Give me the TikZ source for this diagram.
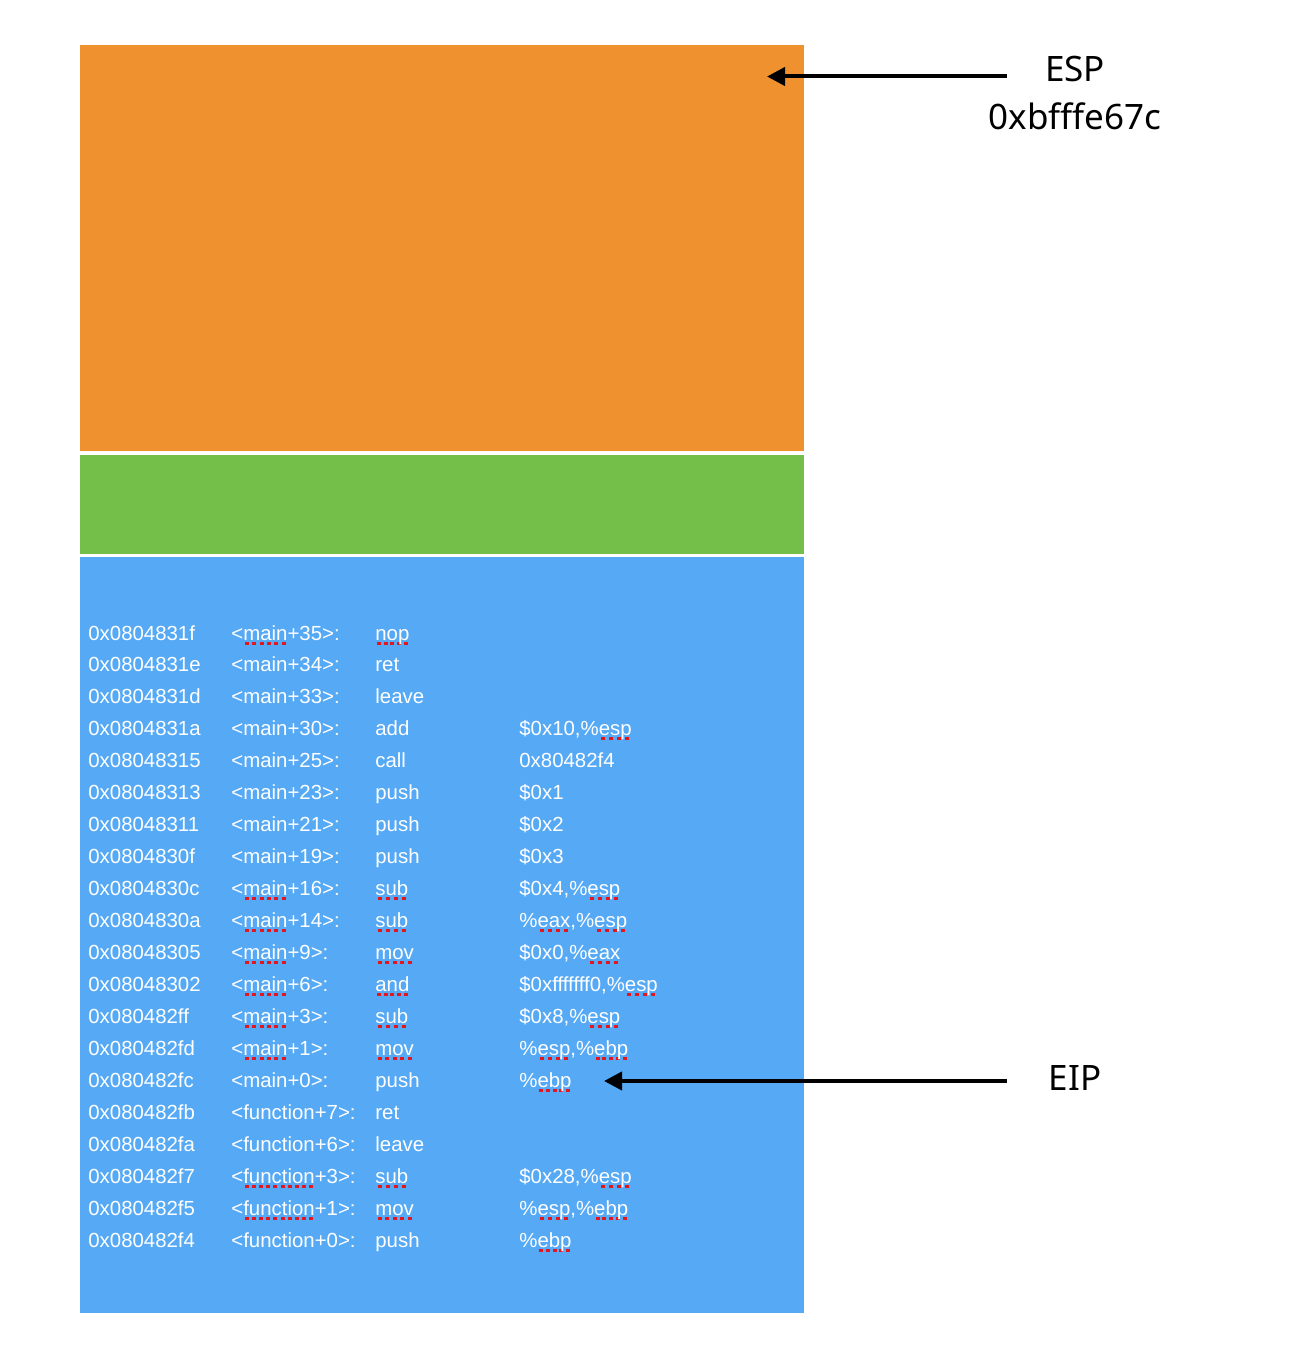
\documentclass[tikz,border=0pt]{standalone}
\usepackage{fontspec}
\setmainfont{Liberation Sans}
\newfontfamily\labfont{Noto Sans}
\usetikzlibrary{arrows.meta}
\definecolor{stkorange}{RGB}{240,145,48}
\definecolor{stkgreen}{RGB}{116,190,74}
\definecolor{stkblue}{RGB}{86,169,245}
\definecolor{sqred}{RGB}{226,24,30}
\newcommand\sq[1]{\setbox0=\hbox{#1}\rlap{\raisebox{-2.3pt}{\hbox to \wd0{\color{sqred}\xleaders\hbox to 3.4pt{\hss\rule{2pt}{1.5pt}\hss}\hfill}}}\box0}
\tikzset{
  ins/.style={anchor=base west, inner sep=0pt, text=white, font=\fontsize{10.2}{12}\selectfont},
  reglabel/.style={inner sep=0pt, text=black, font=\labfont\fontsize{17.5}{21}\selectfont},
  ptr/.style={line width=2pt, -{Triangle[length=9pt,width=9pt]}}
}
\newcommand\insrow[5]{%
  \node[ins] (a#1) at (88,{640+#1*31.95}) {#2};
  \node[ins] (f#1) at (231,{640+#1*31.95}) {#3};
  \node[ins] (o#1) at (375,{640+#1*31.95}) {#4};
  \node[ins] (g#1) at (519,{640+#1*31.95}) {#5};
}
\begin{document}
\begin{tikzpicture}[x=0.5pt,y=-0.5pt]
\useasboundingbox (0,0) rectangle (1298,1370);
\fill[white] (0,0) rectangle (1298,1370);
% stack blocks
\fill[stkorange] (80,45) rectangle (804,451);
\fill[stkgreen] (80,455) rectangle (804,554);
\fill[stkblue] (80,557) rectangle (804,1313);
% instructions
\insrow{0}{0x0804831f}{<\sq{main}+35>:}{\sq{nop}}{}
\insrow{1}{0x0804831e}{<main+34>:}{ret}{}
\insrow{2}{0x0804831d}{<main+33>:}{leave}{}
\insrow{3}{0x0804831a}{<main+30>:}{add}{\$0x10,\%\sq{esp}}
\insrow{4}{0x08048315}{<main+25>:}{call}{0x80482f4}
\insrow{5}{0x08048313}{<main+23>:}{push}{\$0x1}
\insrow{6}{0x08048311}{<main+21>:}{push}{\$0x2}
\insrow{7}{0x0804830f}{<main+19>:}{push}{\$0x3}
\insrow{8}{0x0804830c}{<\sq{main}+16>:}{\sq{sub}}{\$0x4,\%\sq{esp}}
\insrow{9}{0x0804830a}{<\sq{main}+14>:}{\sq{sub}}{\%\sq{eax},\%\sq{esp}}
\insrow{10}{0x08048305}{<\sq{main}+9>:}{\sq{mov}}{\$0x0,\%\sq{eax}}
\insrow{11}{0x08048302}{<\sq{main}+6>:}{\sq{and}}{\$0xfffffff0,\%\sq{esp}}
\insrow{12}{0x080482ff}{<\sq{main}+3>:}{\sq{sub}}{\$0x8,\%\sq{esp}}
\insrow{13}{0x080482fd}{<\sq{main}+1>:}{\sq{mov}}{\%\sq{esp},\%\sq{ebp}}
\insrow{14}{0x080482fc}{<main+0>:}{push}{\%\sq{ebp}}
\insrow{15}{0x080482fb}{<function+7>:}{ret}{}
\insrow{16}{0x080482fa}{<function+6>:}{leave}{}
\insrow{17}{0x080482f7}{<\sq{function}+3>:}{\sq{sub}}{\$0x28,\%\sq{esp}}
\insrow{18}{0x080482f5}{<\sq{function}+1>:}{\sq{mov}}{\%\sq{esp},\%\sq{ebp}}
\insrow{19}{0x080482f4}{<function+0>:}{push}{\%\sq{ebp}}
% register labels
\node[reglabel] (esp) at (1075,69) {ESP};
\node[reglabel] (espval) at (1075,116) {0xbfffe67c};
\node[reglabel] (eip) at (1075,1078) {EIP};
% pointers
\coordinate (espfrom) at (1007,76.5);
\coordinate (esptip) at (767,76.5);
\coordinate (eipfrom) at (1007,1081);
\coordinate (eiptip) at (604,1081);
\draw[ptr] (espfrom) -- (esptip);
\draw[ptr] (eipfrom) -- (eiptip);
\end{tikzpicture}
\end{document}
